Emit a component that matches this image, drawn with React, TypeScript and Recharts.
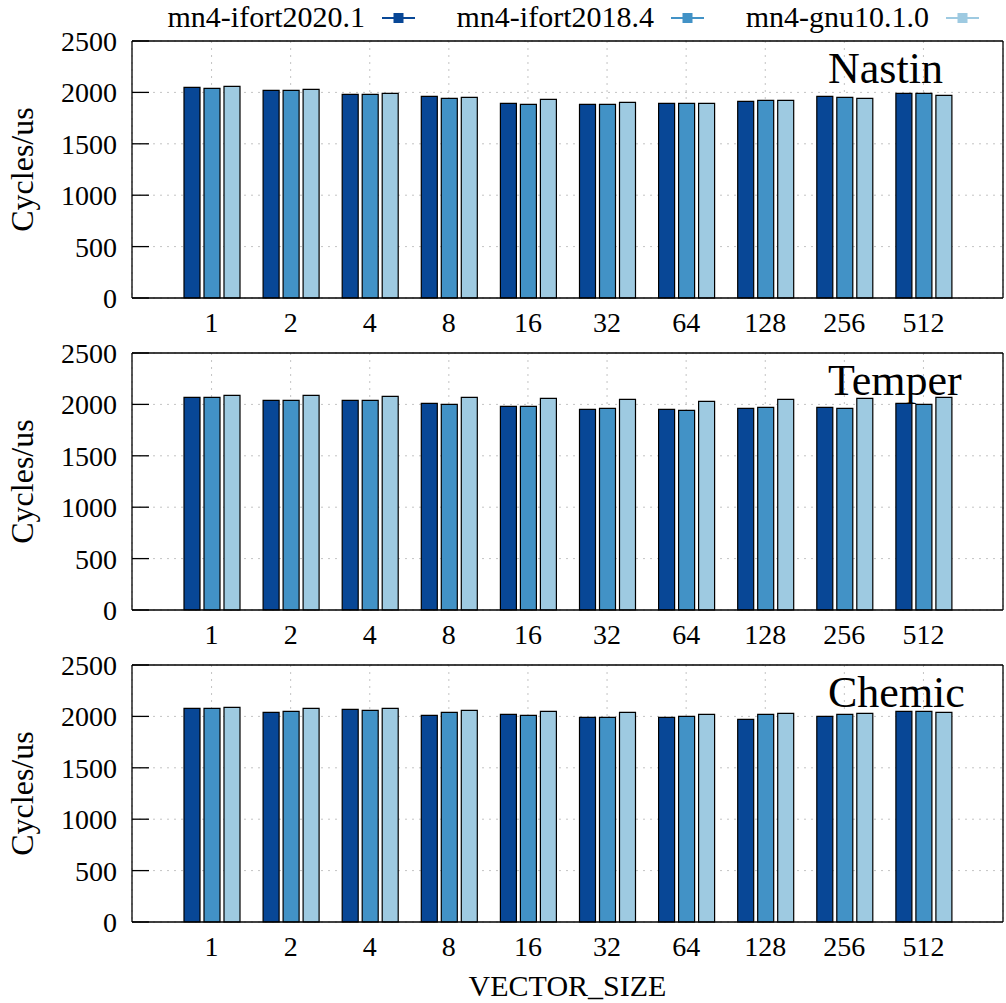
import React from 'react';
import { BarChart, Bar, XAxis, YAxis, CartesianGrid } from 'recharts';

const categories = ['1', '2', '4', '8', '16', '32', '64', '128', '256', '512'];
const seriesNames = ['mn4-ifort2020.1', 'mn4-ifort2018.4', 'mn4-gnu10.1.0'];
const seriesColors = ['#084796', '#4292c6', '#9ecae1'];
const yTicks = [0, 500, 1000, 1500, 2000, 2500];

const nastin2020 = [2049, 2019, 1981, 1961, 1893, 1883, 1893, 1912, 1961, 1990];
const nastin2018 = [2039, 2019, 1981, 1942, 1883, 1883, 1893, 1922, 1951, 1990];
const nastinGnu = [2058, 2029, 1990, 1951, 1932, 1903, 1893, 1922, 1942, 1971];

const temper2020 = [2068, 2039, 2039, 2010, 1980, 1951, 1951, 1961, 1971, 2010];
const temper2018 = [2068, 2039, 2039, 2000, 1980, 1961, 1941, 1971, 1961, 2000];
const temperGnu = [2088, 2088, 2078, 2068, 2058, 2049, 2029, 2049, 2058, 2068];

const chemic2020 = [2078, 2039, 2068, 2010, 2020, 1990, 1990, 1971, 2000, 2049];
const chemic2018 = [2078, 2049, 2059, 2039, 2010, 1990, 2000, 2020, 2020, 2049];
const chemicGnu = [2088, 2078, 2078, 2059, 2049, 2039, 2020, 2029, 2029, 2039];

const panels = [
  { title: 'Nastin', series: [nastin2020, nastin2018, nastinGnu] },
  { title: 'Temper', series: [temper2020, temper2018, temperGnu] },
  { title: 'Chemic', series: [chemic2020, chemic2018, chemicGnu] },
];

const FONT = '"Liberation Serif", "Times New Roman", serif';
const keys = ['s0', 's1', 's2'];

const buildRows = (series: number[][]) =>
  categories.map((c, i) => ({ cat: c, s0: series[0][i], s1: series[1][i], s2: series[2][i] }));

const Panel = ({ idx }: { idx: number }) => {
  const panel = panels[idx];
  const last = idx === panels.length - 1;
  // charts overlap a little so the tick labels are never clipped
  const height = last ? 359 : 332;
  const data = buildRows(panel.series);
  return (
    <div style={{ position: 'absolute', left: 0, top: 20 + idx * 312 }}>
      <BarChart
        width={1006}
        height={height}
        data={data}
        margin={{ top: 20, right: 2, left: 0, bottom: 0 }}
        barSize={16}
        barGap={4}
      >
        <CartesianGrid stroke="#c4c4c4" strokeDasharray="2 5" strokeWidth={1} />
        <XAxis
          dataKey="cat"
          padding={{ left: 40, right: 40 }}
          height={last ? 81 : 54}
          tickLine={false}
          tickSize={0}
          tickMargin={14}
          axisLine={{ stroke: '#000', strokeWidth: 1.3 }}
          tick={{ fontFamily: FONT, fontSize: 28, fill: '#000' }}
          interval={0}
          label={
            last
              ? { value: 'VECTOR_SIZE', position: 'insideBottom', offset: 7, style: { fontFamily: FONT, fontSize: 30, fill: '#000' } }
              : undefined
          }
        />
        <XAxis
          xAxisId="top"
          dataKey="cat"
          orientation="top"
          padding={{ left: 40, right: 40 }}
          height={1}
          tick={false}
          tickLine={false}
          axisLine={{ stroke: '#000', strokeWidth: 1.3 }}
        />
        <YAxis
          domain={[0, 2500]}
          ticks={yTicks}
          width={132}
          tickSize={-17}
          tickMargin={32}
          tickLine={{ stroke: '#000', strokeWidth: 1.3 }}
          axisLine={{ stroke: '#000', strokeWidth: 1.3 }}
          tick={{ fontFamily: FONT, fontSize: 28, fill: '#000' }}
          label={{
            value: 'Cycles/us',
            angle: -90,
            position: 'insideLeft',
            offset: 22,
            style: { textAnchor: 'middle', fontFamily: FONT, fontSize: 32, fill: '#000' },
          }}
        />
        <YAxis
          yAxisId="right"
          orientation="right"
          domain={[0, 2500]}
          ticks={yTicks}
          width={1}
          tickSize={-17}
          tick={false}
          tickLine={{ stroke: '#000', strokeWidth: 1.3 }}
          axisLine={{ stroke: '#000', strokeWidth: 1.3 }}
        />
        {keys.map((k, i) => (
          <Bar
            key={k}
            dataKey={k}
            name={seriesNames[i]}
            fill={seriesColors[i]}
            stroke="#000"
            strokeWidth={1.2}
            isAnimationActive={false}
          />
        ))}
      </BarChart>
    </div>
  );
};

const legendTextEnds = [365, 654, 929];

const Overlay = () => (
  <svg width={1006} height={1003} style={{ position: 'absolute', left: 0, top: 0, pointerEvents: 'none' }}>
    {seriesNames.map((n, i) => {
      const xe = legendTextEnds[i];
      return (
        <g key={n}>
          <text x={xe} y={27} textAnchor="end" fontFamily={FONT} fontSize={30} fill="#000">
            {n}
          </text>
          <line x1={xe + 17} x2={xe + 50} y1={18} y2={18} stroke={seriesColors[i]} strokeWidth={2} />
          <rect x={xe + 28.5} y={13} width={10} height={10} fill={seriesColors[i]} />
        </g>
      );
    })}
    {panels.map((p, i) => (
      <text key={p.title} x={828} y={83 + i * 312} fontFamily={FONT} fontSize={44} fill="#000">
        {p.title}
      </text>
    ))}
  </svg>
);

export default function App() {
  return (
    <div style={{ position: 'absolute', left: 0, top: 0, width: 1006, height: 1003, background: '#fff', fontFamily: FONT }}>
      {panels.map((p, i) => (
        <Panel key={p.title} idx={i} />
      ))}
      <Overlay />
    </div>
  );
}
